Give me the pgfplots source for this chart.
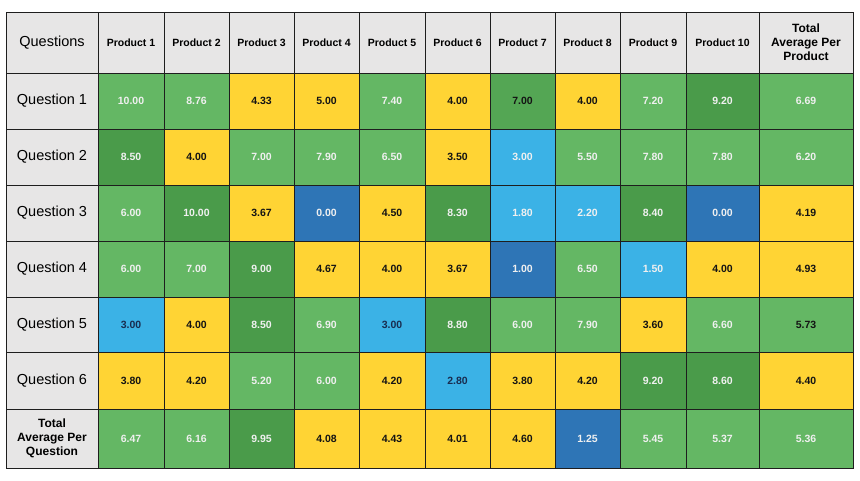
\documentclass[border=0pt]{standalone}
\usepackage{pgfplots}
\pgfplotsset{compat=1.18}
\usepackage{fontspec}
\setmainfont{Liberation Sans}

\definecolor{hdr}{RGB}{231,230,230}
\definecolor{gm}{RGB}{100,183,100}
\definecolor{gd}{RGB}{74,155,74}
\definecolor{gx}{RGB}{84,166,84}
\definecolor{yl}{RGB}{255,212,52}
\definecolor{lb}{RGB}{59,178,230}
\definecolor{db}{RGB}{46,117,182}
\definecolor{gridc}{RGB}{30,30,30}
\definecolor{navy}{RGB}{25,45,80}

\tikzset{
    wt/.style={text=white!94!black, font=\fontsize{10.5}{12}\selectfont\bfseries},
    dk/.style={text=black!92, font=\fontsize{10.5}{12}\selectfont\bfseries},
    nv/.style={text=navy, font=\fontsize{10.5}{12}\selectfont\bfseries},
    hp/.style={text=black, font=\fontsize{10.5}{12}\selectfont\bfseries},
    hq/.style={text=black, font=\fontsize{14.5}{16}\selectfont},
    ht/.style={text=black, align=center, font=\fontsize{12}{14}\selectfont\bfseries},
}

% cell boundaries (pixels of the reference)
\def\xb{{6,98,164,229,294,359,425,490,555,620,686,759,853}}
\def\yb{{12,73,129,185,241,297,352,409,468}}

% \cell{col}{row}{fill}{text style}{text}
\newcommand\cell[5]{%
  \pgfmathsetmacro\xa{\xb[#1]}\pgfmathsetmacro\xc{\xb[#1+1]}%
  \pgfmathsetmacro\ya{\yb[#2]}\pgfmathsetmacro\yc{\yb[#2+1]}%
  \pgfmathsetmacro\xm{(\xa+\xc)/2}\pgfmathsetmacro\ym{(\ya+\yc)/2}%
  \edef\cellcmd{\noexpand\addplot[fill=#3, draw=gridc, line width=0.8pt, mark=none]
    coordinates {(\xa,\ya) (\xc,\ya) (\xc,\yc) (\xa,\yc)} --cycle;
    \noexpand\node[#4] at (axis cs:\xm,\ym) {\unexpanded{#5}};}%
  \cellcmd}

\begin{document}
\begin{tikzpicture}
\begin{axis}[
    x=1pt, y=1pt,
    xmin=0, xmax=860, ymin=0, ymax=480,
    y dir=reverse,
    hide axis, scale only axis, clip=false,
]
\path (axis cs:0,0) rectangle (axis cs:860,480);

% header row
\cell{0}{0}{hdr}{hq}{Questions}
\cell{1}{0}{hdr}{hp}{Product 1}
\cell{2}{0}{hdr}{hp}{Product 2}
\cell{3}{0}{hdr}{hp}{Product 3}
\cell{4}{0}{hdr}{hp}{Product 4}
\cell{5}{0}{hdr}{hp}{Product 5}
\cell{6}{0}{hdr}{hp}{Product 6}
\cell{7}{0}{hdr}{hp}{Product 7}
\cell{8}{0}{hdr}{hp}{Product 8}
\cell{9}{0}{hdr}{hp}{Product 9}
\cell{10}{0}{hdr}{hp}{Product 10}
\cell{11}{0}{hdr}{ht}{Total\\Average Per\\Product}

% Question 1
\cell{0}{1}{hdr}{hq}{Question 1}
\cell{1}{1}{gm}{wt}{10.00}
\cell{2}{1}{gm}{wt}{8.76}
\cell{3}{1}{yl}{dk}{4.33}
\cell{4}{1}{yl}{dk}{5.00}
\cell{5}{1}{gm}{wt}{7.40}
\cell{6}{1}{yl}{dk}{4.00}
\cell{7}{1}{gx}{dk}{7.00}
\cell{8}{1}{yl}{dk}{4.00}
\cell{9}{1}{gm}{wt}{7.20}
\cell{10}{1}{gd}{wt}{9.20}
\cell{11}{1}{gm}{wt}{6.69}

% Question 2
\cell{0}{2}{hdr}{hq}{Question 2}
\cell{1}{2}{gd}{wt}{8.50}
\cell{2}{2}{yl}{dk}{4.00}
\cell{3}{2}{gm}{wt}{7.00}
\cell{4}{2}{gm}{wt}{7.90}
\cell{5}{2}{gm}{wt}{6.50}
\cell{6}{2}{yl}{dk}{3.50}
\cell{7}{2}{lb}{wt}{3.00}
\cell{8}{2}{gm}{wt}{5.50}
\cell{9}{2}{gm}{wt}{7.80}
\cell{10}{2}{gm}{wt}{7.80}
\cell{11}{2}{gm}{wt}{6.20}

% Question 3
\cell{0}{3}{hdr}{hq}{Question 3}
\cell{1}{3}{gm}{wt}{6.00}
\cell{2}{3}{gd}{wt}{10.00}
\cell{3}{3}{yl}{dk}{3.67}
\cell{4}{3}{db}{wt}{0.00}
\cell{5}{3}{yl}{dk}{4.50}
\cell{6}{3}{gd}{wt}{8.30}
\cell{7}{3}{lb}{wt}{1.80}
\cell{8}{3}{lb}{wt}{2.20}
\cell{9}{3}{gd}{wt}{8.40}
\cell{10}{3}{db}{wt}{0.00}
\cell{11}{3}{yl}{dk}{4.19}

% Question 4
\cell{0}{4}{hdr}{hq}{Question 4}
\cell{1}{4}{gm}{wt}{6.00}
\cell{2}{4}{gm}{wt}{7.00}
\cell{3}{4}{gd}{wt}{9.00}
\cell{4}{4}{yl}{dk}{4.67}
\cell{5}{4}{yl}{dk}{4.00}
\cell{6}{4}{yl}{dk}{3.67}
\cell{7}{4}{db}{wt}{1.00}
\cell{8}{4}{gm}{wt}{6.50}
\cell{9}{4}{lb}{wt}{1.50}
\cell{10}{4}{yl}{dk}{4.00}
\cell{11}{4}{yl}{dk}{4.93}

% Question 5
\cell{0}{5}{hdr}{hq}{Question 5}
\cell{1}{5}{lb}{nv}{3.00}
\cell{2}{5}{yl}{dk}{4.00}
\cell{3}{5}{gd}{wt}{8.50}
\cell{4}{5}{gm}{wt}{6.90}
\cell{5}{5}{lb}{nv}{3.00}
\cell{6}{5}{gd}{wt}{8.80}
\cell{7}{5}{gm}{wt}{6.00}
\cell{8}{5}{gm}{wt}{7.90}
\cell{9}{5}{yl}{dk}{3.60}
\cell{10}{5}{gm}{wt}{6.60}
\cell{11}{5}{gm}{dk}{5.73}

% Question 6
\cell{0}{6}{hdr}{hq}{Question 6}
\cell{1}{6}{yl}{dk}{3.80}
\cell{2}{6}{yl}{dk}{4.20}
\cell{3}{6}{gm}{wt}{5.20}
\cell{4}{6}{gm}{wt}{6.00}
\cell{5}{6}{yl}{dk}{4.20}
\cell{6}{6}{lb}{nv}{2.80}
\cell{7}{6}{yl}{dk}{3.80}
\cell{8}{6}{yl}{dk}{4.20}
\cell{9}{6}{gd}{wt}{9.20}
\cell{10}{6}{gd}{wt}{8.60}
\cell{11}{6}{yl}{dk}{4.40}

% Total average per question
\cell{0}{7}{hdr}{ht}{Total\\Average Per\\Question}
\cell{1}{7}{gm}{wt}{6.47}
\cell{2}{7}{gm}{wt}{6.16}
\cell{3}{7}{gd}{wt}{9.95}
\cell{4}{7}{yl}{dk}{4.08}
\cell{5}{7}{yl}{dk}{4.43}
\cell{6}{7}{yl}{dk}{4.01}
\cell{7}{7}{yl}{dk}{4.60}
\cell{8}{7}{db}{wt}{1.25}
\cell{9}{7}{gm}{wt}{5.45}
\cell{10}{7}{gm}{wt}{5.37}
\cell{11}{7}{gm}{wt}{5.36}
\end{axis}
\end{tikzpicture}
\end{document}
